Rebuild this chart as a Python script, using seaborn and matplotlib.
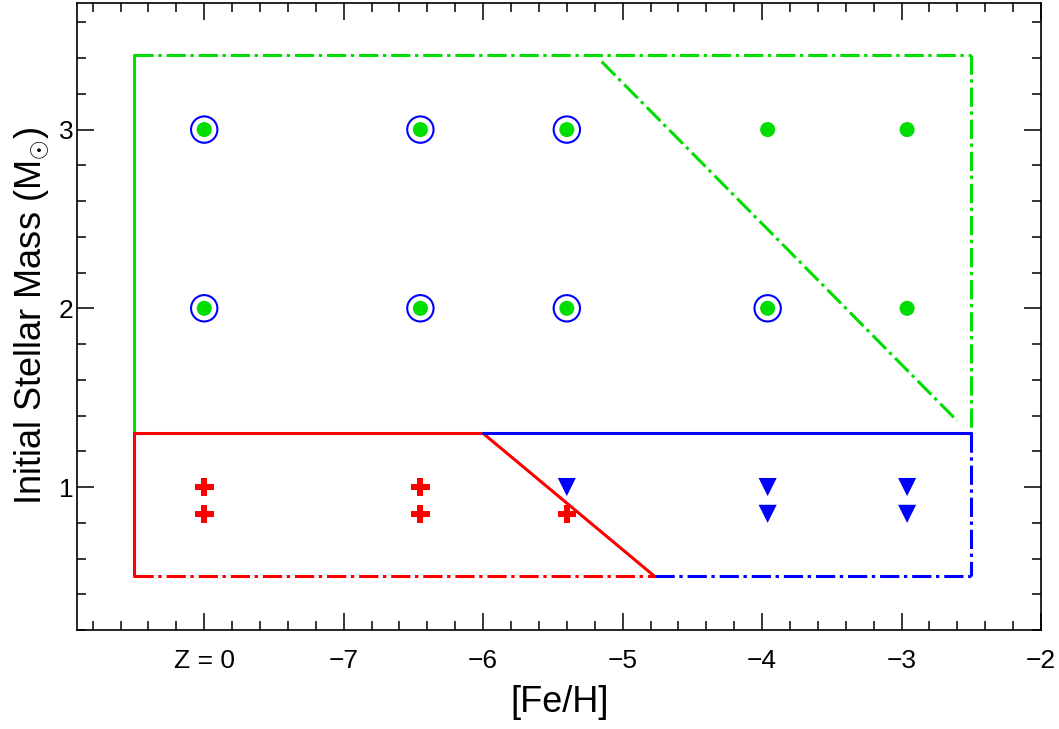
import numpy as np
import pandas as pd
import seaborn as sns
import matplotlib.pyplot as plt
from matplotlib.ticker import MultipleLocator, FixedLocator, FixedFormatter

# 模型格子 ([Fe/H], 初始质量)
feh_grid = [-8.0, -6.45, -5.40, -3.96, -2.96]
high_masses = [3.0, 2.0]

ring_feh_3 = [-8.0, -6.45, -5.40]
ring_feh_2 = [-8.0, -6.45, -5.40, -3.96]

plus_feh = [-8.0, -8.0, -6.45, -6.45, -5.40]
plus_mass = [1.0, 0.85, 1.0, 0.85, 0.85]

tri_feh = [-5.40, -3.96, -3.96, -2.96, -2.96]
tri_mass = [1.0, 1.0, 0.85, 1.0, 0.85]

# 区域边界
feh_left = -8.5
feh_right = -2.5
mass_low = 0.5
mass_mid = 1.3
mass_top = 3.42
red_cut_feh = [-6.0, -4.77]      # at mass_mid, mass_low
green_cut_feh = [-5.15, -2.60]
green_cut_mass = [3.38, 1.37]

xtick_vals = [-8, -7, -6, -5, -4, -3, -2]
xtick_text = ["Z = 0", "\u22127", "\u22126", "\u22125", "\u22124", "\u22123", "\u22122"]

GREEN = "#00dd00"
RED = "#ff0000"
BLUE = "#0000ff"

sns.set_theme(style="ticks", rc={"text.color": "black", "axes.labelcolor": "black",
                                 "xtick.color": "black", "ytick.color": "black",
                                 "axes.edgecolor": "black"})
plt.rcParams['font.family'] = ['Liberation Sans', 'DejaVu Sans']
plt.rcParams['mathtext.fontset'] = 'custom'
plt.rcParams['mathtext.rm'] = 'Liberation Sans'

fig = plt.figure(figsize=(10.59, 7.29), dpi=100)
ax = fig.add_axes([0.073, 0.1358, 0.910, 0.8605])

# markers
grid = pd.DataFrame([(f, m) for m in high_masses for f in feh_grid], columns=["feh", "mass"])
sns.scatterplot(data=grid, x="feh", y="mass", marker="o", s=117, color=GREEN,
                edgecolor="none", ax=ax, zorder=3)
rings = pd.DataFrame({"feh": ring_feh_3 + ring_feh_2,
                      "mass": [3.0] * len(ring_feh_3) + [2.0] * len(ring_feh_2)})
sns.scatterplot(data=rings, x="feh", y="mass", marker="o", s=360, facecolor="none",
                edgecolor=BLUE, linewidth=1.5, color=BLUE, ax=ax, zorder=3)
sns.scatterplot(x=plus_feh, y=plus_mass, marker="P", s=180, color=RED,
                edgecolor="none", ax=ax, zorder=3)
sns.scatterplot(x=tri_feh, y=tri_mass, marker="v", s=170, color=BLUE,
                edgecolor="none", ax=ax, zorder=3)

dashdot = (0, (6.3, 1.5, 1.1, 1.6))
segs = [
    # green
    ([feh_left, feh_left], [mass_mid, mass_top], GREEN, "-"),
    ([feh_left, feh_right], [mass_top, mass_top], GREEN, dashdot),
    ([feh_right, feh_right], [mass_top, mass_mid], GREEN, dashdot),
    (green_cut_feh, green_cut_mass, GREEN, dashdot),
    # red
    ([feh_left, red_cut_feh[0]], [mass_mid, mass_mid], RED, "-"),
    ([feh_left, feh_left], [mass_mid, mass_low], RED, "-"),
    ([feh_left, red_cut_feh[1]], [mass_low, mass_low], RED, dashdot),
    (red_cut_feh, [mass_mid, mass_low], RED, "-"),
    # blue
    ([red_cut_feh[0], feh_right], [mass_mid, mass_mid], BLUE, "-"),
    ([feh_right, feh_right], [mass_mid, mass_low], BLUE, dashdot),
    ([red_cut_feh[1], feh_right], [mass_low, mass_low], BLUE, dashdot),
]
for xs, ys, c, ls in segs:
    sns.lineplot(x=xs, y=ys, color=c, lw=2.2, linestyle=ls, estimator=None,
                 sort=False, ax=ax, zorder=4)

ax.set_xlim(-8.91, -2)
ax.set_ylim(0.2, 3.71)
ax.xaxis.set_major_locator(FixedLocator(xtick_vals))
ax.xaxis.set_major_formatter(FixedFormatter(xtick_text))
ax.xaxis.set_minor_locator(MultipleLocator(0.2))
ax.yaxis.set_major_locator(MultipleLocator(1))
ax.yaxis.set_minor_locator(MultipleLocator(0.2))

ax.tick_params(which="both", direction="in", top=True, right=True, width=1.1, color="black")
ax.tick_params(which="major", length=12.5)
ax.tick_params(which="minor", length=6.5)
ax.tick_params(axis="x", which="major", labelsize=19, labelcolor="black", pad=14)
ax.tick_params(axis="y", which="major", labelsize=19, labelcolor="black", pad=3)
for s in ax.spines.values():
    s.set_linewidth(1.2)
    s.set_color("black")

ax.set_xlabel("[Fe/H]", fontsize=26, labelpad=8, color="black")
ax.set_ylabel("Initial Stellar Mass (M$_{\\odot}$)", fontsize=26, labelpad=5, color="black")

fig.savefig("out.png", dpi=100, facecolor="white")
